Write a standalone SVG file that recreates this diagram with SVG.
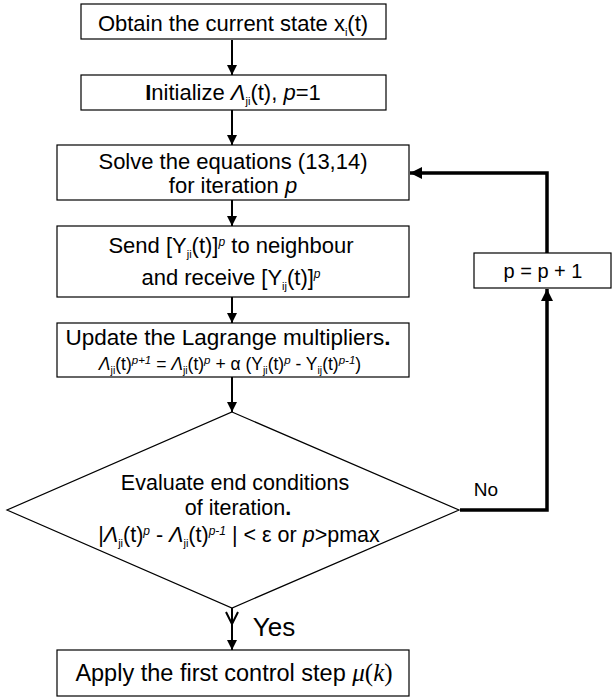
<svg xmlns="http://www.w3.org/2000/svg" width="614" height="700" viewBox="0 0 614 700">
<style>
.box{fill:#fff;stroke:#000;stroke-width:1.2}
.t{font-family:"Liberation Sans",Arial,sans-serif;fill:#000;text-anchor:middle}
.c{fill:none;stroke:#000;stroke-width:2}
.k{fill:none;stroke:#000;stroke-width:3.5}
.m{font-family:"Liberation Serif","DejaVu Serif",serif;font-style:italic}
</style>
<defs>
<marker id="a" markerUnits="userSpaceOnUse" markerWidth="12" markerHeight="12" refX="10" refY="5" orient="auto"><path d="M0,0 L10,5 L0,10 Z" fill="#000"/></marker>
<marker id="b" markerUnits="userSpaceOnUse" markerWidth="14" markerHeight="14" refX="12" refY="6" orient="auto"><path d="M0,0 L12,6 L0,12 Z" fill="#000"/></marker>
</defs>
<g id="connectors">
<line class="c" x1="232" y1="40" x2="232" y2="75" marker-end="url(#a)"/>
<line class="c" x1="232" y1="110" x2="232" y2="145" marker-end="url(#a)"/>
<line class="c" x1="232" y1="200" x2="232" y2="226" marker-end="url(#a)"/>
<line class="c" x1="232" y1="297" x2="232" y2="323" marker-end="url(#a)"/>
<line class="c" x1="232" y1="377" x2="232" y2="412" marker-end="url(#a)"/>
<line class="c" x1="232" y1="608" x2="232" y2="650" marker-end="url(#a)"/>
<polyline class="c" points="226,612 232,624 238,612"/>
<polyline class="k" points="460,510 547,510 547,289" marker-end="url(#b)"/>
<polyline class="k" points="547,253 547,173 410,173" marker-end="url(#b)"/>
</g>
<g id="n1">
<rect class="box" x="81" y="4" width="305" height="35"/>
<text class="t" x="233" y="31" font-size="22">Obtain the current state x<tspan font-size="11" dy="5">i</tspan><tspan dy="-5">(t)</tspan></text>
</g>
<g id="n2">
<rect class="box" x="81" y="75" width="305" height="35"/>
<text class="t" x="233" y="100" font-size="22"><tspan font-weight="bold">I</tspan>nitialize <tspan font-style="italic">Λ</tspan><tspan font-size="11" dy="5">ji</tspan><tspan dy="-5">(t), </tspan><tspan font-style="italic">p</tspan>=1</text>
</g>
<g id="n3">
<rect class="box" x="57" y="145" width="352" height="55"/>
<text class="t" x="233" y="169" font-size="22">Solve the equations (13,14)</text>
<text class="t" x="233" y="193" font-size="22">for iteration <tspan font-style="italic">p</tspan></text>
</g>
<g id="n4">
<rect class="box" x="57" y="226" width="352" height="71"/>
<text class="t" x="231" y="253" font-size="22">Send [Y<tspan font-size="11" dy="5">ji</tspan><tspan dy="-5">(t)]</tspan><tspan font-size="12" font-style="italic" dy="-7">p</tspan><tspan dy="7"> to neighbour</tspan></text>
<text class="t" x="231" y="285" font-size="22">and receive [Y<tspan font-size="11" dy="5">ij</tspan><tspan dy="-5">(t)]</tspan><tspan font-size="12" font-style="italic" dy="-7">p</tspan></text>
</g>
<g id="n5">
<rect class="box" x="57" y="323" width="352" height="54"/>
<text class="t" x="228" y="345" font-size="22.5">Update the Lagrange multipliers<tspan font-weight="bold">.</tspan></text>
<text class="t" x="230" y="370" font-size="17.5"><tspan font-style="italic">Λ</tspan><tspan font-size="10.5" dy="4">ji</tspan><tspan dy="-4">(t)</tspan><tspan font-size="11.5" font-style="italic" dy="-6">p+1</tspan><tspan dy="6"> = </tspan><tspan font-style="italic">Λ</tspan><tspan font-size="10.5" dy="4">ji</tspan><tspan dy="-4">(t)</tspan><tspan font-size="11.5" font-style="italic" dy="-6">p</tspan><tspan dy="6"> + α (Y</tspan><tspan font-size="10.5" dy="4">ji</tspan><tspan dy="-4">(t)</tspan><tspan font-size="11.5" font-style="italic" dy="-6">p</tspan><tspan dy="6"> - Y</tspan><tspan font-size="10.5" dy="4">ij</tspan><tspan dy="-4">(t)</tspan><tspan font-size="11.5" font-style="italic" dy="-6">p-1</tspan><tspan dy="6">)</tspan></text>
</g>
<g id="n6">
<polygon class="box" points="232,412 459,510 232,608 7,510"/>
<text class="t" x="235" y="490" font-size="21.5">Evaluate end conditions</text>
<text class="t" x="238" y="515" font-size="21.5">of iteration<tspan font-weight="bold">.</tspan></text>
<text class="t" x="239" y="542" font-size="21.5">|<tspan font-style="italic">Λ</tspan><tspan font-size="11" dy="5">ji</tspan><tspan dy="-5">(t)</tspan><tspan font-size="12" font-style="italic" dy="-7">p</tspan><tspan dy="7"> - </tspan><tspan font-style="italic">Λ</tspan><tspan font-size="11" dy="5">ji</tspan><tspan dy="-5">(t)</tspan><tspan font-size="12" font-style="italic" dy="-7">p-1</tspan><tspan dy="7"> | &lt; ε or </tspan><tspan font-style="italic">p</tspan>&gt;pmax</text>
</g>
<g id="n7">
<rect class="box" x="474" y="253" width="137" height="35"/>
<text class="t" x="543" y="278" font-size="20">p = p + 1</text>
</g>
<g id="n8">
<rect class="box" x="57" y="650" width="352" height="46"/>
<text class="t" x="234" y="681" font-size="23.5">Apply the first control step <tspan class="m" font-size="25">μ</tspan><tspan font-family="Liberation Serif,serif" font-size="25">(</tspan><tspan class="m" font-size="25">k</tspan><tspan font-family="Liberation Serif,serif" font-size="25">)</tspan></text>
</g>
<g id="labels">
<text class="t" x="486" y="496" font-size="19">No</text>
<text class="t" x="274" y="636" font-size="26">Yes</text>
</g>
</svg>
